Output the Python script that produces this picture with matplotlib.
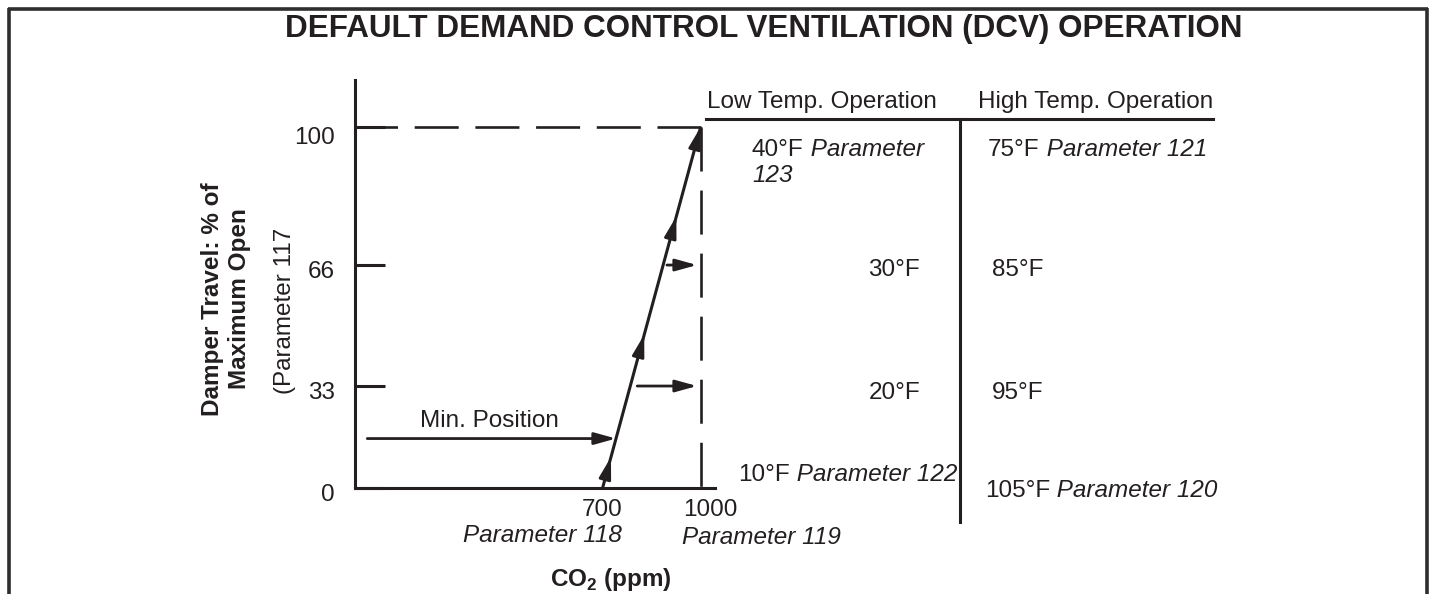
import numpy as np
import matplotlib
matplotlib.use("Agg")
import matplotlib.pyplot as plt
from matplotlib.lines import Line2D
from matplotlib.text import Annotation

# ---------------- data ----------------
pct_ticks = [0, 33, 66, 100]
pct_tick_labels = ["0", "33", "66", "100"]
ppm_ticks = [700, 1000]
ppm_tick_labels = ["700", "1000"]
ppm_param_labels = ["Parameter 118", "Parameter 119"]

ramp_ppm = [700, 1000]
ramp_pct = [0, 100]
ramp_arrow_pct = [10, 47, 78, 100]

min_position_pct = 16
min_arrow_start_ppm = -20
min_position_label = "Min. Position"

step_arrow_pct = [33, 66]
step_arrow_start_ppm = [806, 897]
step_arrow_end_ppm = 989

low_header = "Low Temp. Operation"
high_header = "High Temp. Operation"
low_temps = ["40°F", "30°F", "20°F", "10°F"]
low_params = ["Parameter 123", "", "", "Parameter 122"]
high_temps = ["75°F", "85°F", "95°F", "105°F"]
high_params = ["Parameter 121", "", "", "Parameter 120"]

title = "DEFAULT DEMAND CONTROL VENTILATION (DCV) OPERATION"
ylabel_lines = ["Damper Travel: % of", "Maximum Open"]
ylabel_param = "(Parameter 117"
xlabel = r"CO$_{\mathbf{2}}$ (ppm)"

# ---------------- style ----------------
W, H, DPI = 1430, 594, 100
INK = "#231f20"
FS = 17.5
plt.rcParams["font.family"] = ["Liberation Sans", "DejaVu Sans"]
plt.rcParams["mathtext.fontset"] = "custom"
plt.rcParams["mathtext.rm"] = "Liberation Sans"
plt.rcParams["mathtext.bf"] = "Liberation Sans:bold"
plt.rcParams["lines.scale_dashes"] = False

fig = plt.figure(figsize=(W / DPI, H / DPI), dpi=DPI)
fig.patch.set_facecolor("white")


def fx(px):
    return px / W


def fy(py):
    return 1 - py / H


# piecewise-linear (schematic) vertical scale of the diagram
KV = np.array([0.0, 33.0, 66.0, 100.0])
KU = np.array([0.0, 102.0, 223.0, 361.0])
s_lo = (KU[1] - KU[0]) / (KV[1] - KV[0])
s_hi = (KU[-1] - KU[-2]) / (KV[-1] - KV[-2])


def fwd(v):
    v = np.asarray(v, dtype=float)
    out = np.interp(v, KV, KU)
    out = np.where(v > KV[-1], KU[-1] + (v - KV[-1]) * s_hi, out)
    out = np.where(v < KV[0], KU[0] + (v - KV[0]) * s_lo, out)
    return out


def inv(u):
    u = np.asarray(u, dtype=float)
    out = np.interp(u, KU, KV)
    out = np.where(u > KU[-1], KV[-1] + (u - KU[-1]) / s_hi, out)
    out = np.where(u < KU[0], KV[0] + (u - KU[0]) / s_lo, out)
    return out


ax = fig.add_axes([fx(355), fy(488), 360 / W, 408 / H])
ax.set_yscale("function", functions=(fwd, inv))
ax.set_xlim(-57.6, 1044)
ax.set_ylim(0, 111.6)
ax.patch.set_visible(False)
for s in ["top", "right"]:
    ax.spines[s].set_visible(False)
for s in ["left", "bottom"]:
    ax.spines[s].set_linewidth(2.2)
    ax.spines[s].set_color(INK)
ax.set_xticks([])
ax.set_yticks(pct_ticks)
ax.set_yticklabels([])
ax.tick_params(axis="y", direction="in", length=21.6, width=2.2, color=INK)

# y tick labels
for v, lab in zip(pct_ticks, pct_tick_labels):
    dy = -17 if v == 100 else -13
    ax.annotate(lab, xy=(0, v), xycoords=("axes fraction", "data"),
                xytext=(-20, dy), textcoords="offset pixels",
                ha="right", va="baseline", fontsize=FS, color=INK)

# x tick labels
x_lab_style = [dict(ha="center", dx=0), dict(ha="left", dx=-17.5)]
x_par_style = [dict(ha="right", dx=19.5, dy=-54), dict(ha="left", dx=-18.5, dy=-56)]
for v, lab, par, s1, s2 in zip(ppm_ticks, ppm_tick_labels, ppm_param_labels,
                               x_lab_style, x_par_style):
    ax.annotate(lab, xy=(v, 0), xycoords=("data", "axes fraction"),
                xytext=(s1["dx"], -28), textcoords="offset pixels",
                ha=s1["ha"], va="baseline", fontsize=FS, color=INK)
    ax.annotate(par, xy=(v, 0), xycoords=("data", "axes fraction"),
                xytext=(s2["dx"], s2["dy"]), textcoords="offset pixels",
                ha=s2["ha"], va="baseline", fontsize=FS, color=INK,
                style="italic")

# dashed guides
xmin = ax.get_xlim()[0]
ax.plot([ramp_ppm[1], xmin], [ramp_pct[1], ramp_pct[1]], color=INK, lw=1.9,
        dashes=(31.7, 12.0), solid_capstyle="butt", dash_capstyle="butt",
        clip_on=False)
ax.plot([ramp_ppm[1], ramp_ppm[1]], [ramp_pct[1], ramp_pct[0]], color=INK,
        lw=1.9, dashes=(31.7, 13.7), dash_capstyle="butt", clip_on=False)

# ramp line
ax.plot(ramp_ppm, ramp_pct, color=INK, lw=2.2, solid_capstyle="butt",
        clip_on=False)

arrowprops = dict(arrowstyle="-|>,head_length=13,head_width=3.6",
                  mutation_scale=1, color=INK, lw=2.0, shrinkA=0, shrinkB=0)

T = ax.transData
Ti = T.inverted()
p0 = T.transform((ramp_ppm[0], ramp_pct[0]))
p1 = T.transform((ramp_ppm[1], ramp_pct[1]))
d = (p1 - p0) / np.hypot(*(p1 - p0))


def ramp_point(level):
    ylev = T.transform((ramp_ppm[0], level))[1]
    t = (ylev - p0[1]) / (p1[1] - p0[1])
    return p0 + t * (p1 - p0)


for lev in ramp_arrow_pct:
    tip = ramp_point(lev)
    tail = tip - 24 * d
    ax.annotate("", xy=Ti.transform(tip), xytext=Ti.transform(tail),
                arrowprops=arrowprops, annotation_clip=False)

# min position arrow
tip = Ti.transform(ramp_point(min_position_pct))
ax.annotate("", xy=tip, xytext=(min_arrow_start_ppm, min_position_pct),
            arrowprops=arrowprops, annotation_clip=False)
ax.annotate(min_position_label, xy=(min_arrow_start_ppm, min_position_pct),
            xytext=(53, 12), textcoords="offset pixels", ha="left",
            va="baseline", fontsize=FS, color=INK)

# step arrows towards the 1000 ppm line
for lev, x0 in zip(step_arrow_pct, step_arrow_start_ppm):
    ax.annotate("", xy=(step_arrow_end_ppm, lev), xytext=(x0, lev),
                arrowprops=arrowprops, annotation_clip=False)

# ---------------- figure texts ----------------
fig.text(fx(764), fy(37), title, ha="center", va="baseline", fontsize=22.6,
         fontweight="bold", color=INK)

ylab_x = [219, 246]
for t_, xx in zip(ylabel_lines, ylab_x):
    fig.text(fx(xx), fy(299), t_, rotation=90, rotation_mode="anchor",
             ha="center", va="baseline", fontsize=FS, fontweight="bold",
             color=INK)
fig.text(fx(291), fy(311), ylabel_param, rotation=90, rotation_mode="anchor",
         ha="center", va="baseline", fontsize=FS, color=INK)

fig.text(fx(611), fy(586), xlabel, ha="center", va="baseline", fontsize=FS,
         fontweight="bold", color=INK)

# table headers and rules
fig.text(fx(707), fy(108), low_header, ha="left", va="baseline",
         fontsize=FS, color=INK)
fig.text(fx(977.5), fy(108), high_header, ha="left", va="baseline",
         fontsize=FS, color=INK)
fig.add_artist(Line2D([fx(706), fx(1213)], [fy(118.5), fy(118.5)],
                      transform=fig.transFigure, color=INK, lw=2.2))
fig.add_artist(Line2D([fx(960), fx(960)], [fy(118.5), fy(522)],
                      transform=fig.transFigure, color=INK, lw=2.2))


def temp_entry(x, y, temp, param, ha="left", wrap=False):
    t = fig.text(fx(x), fy(y), temp, ha=ha, va="baseline", fontsize=FS,
                 color=INK)
    if param:
        first, rest = param, ""
        if wrap:
            first, rest = param.rsplit(" ", 1)
        ann = Annotation(" " + first, xy=(1, 0), xycoords=t, ha="left",
                         va="bottom", fontsize=FS, color=INK, style="italic")
        fig.add_artist(ann)
        if rest:
            fig.text(fx(x), fy(y + 26), rest, ha="left", va="baseline",
                     fontsize=FS, color=INK, style="italic")


low_layout = [(752, 156, "left", True), (920, 276, "right", False),
              (920, 399, "right", False), (738, 481, "left", False)]
high_layout = [(988, 156, "left", False), (992, 276, "left", False),
               (992, 399, "left", False), (985, 497, "left", False)]
for (x, y, ha, wr), tmp, par in zip(low_layout, low_temps, low_params):
    temp_entry(x, y, tmp, par, ha, wr)
for (x, y, ha, wr), tmp, par in zip(high_layout, high_temps, high_params):
    temp_entry(x, y, tmp, par, ha, wr)

# frame of the figure panel
BORDER = "#2e2e2e"
fig.add_artist(Line2D([fx(8), fx(1428)], [fy(8.5), fy(8.5)],
                      transform=fig.transFigure, color=BORDER, lw=2.6,
                      solid_capstyle="butt"))
fig.add_artist(Line2D([fx(9), fx(9)], [fy(7.5), fy(594)],
                      transform=fig.transFigure, color=BORDER, lw=2.6,
                      solid_capstyle="butt"))
fig.add_artist(Line2D([fx(1426.5), fx(1426.5)], [fy(7.5), fy(594)],
                      transform=fig.transFigure, color=BORDER, lw=2.6,
                      solid_capstyle="butt"))

fig.savefig("out.png", dpi=DPI, facecolor="white")
